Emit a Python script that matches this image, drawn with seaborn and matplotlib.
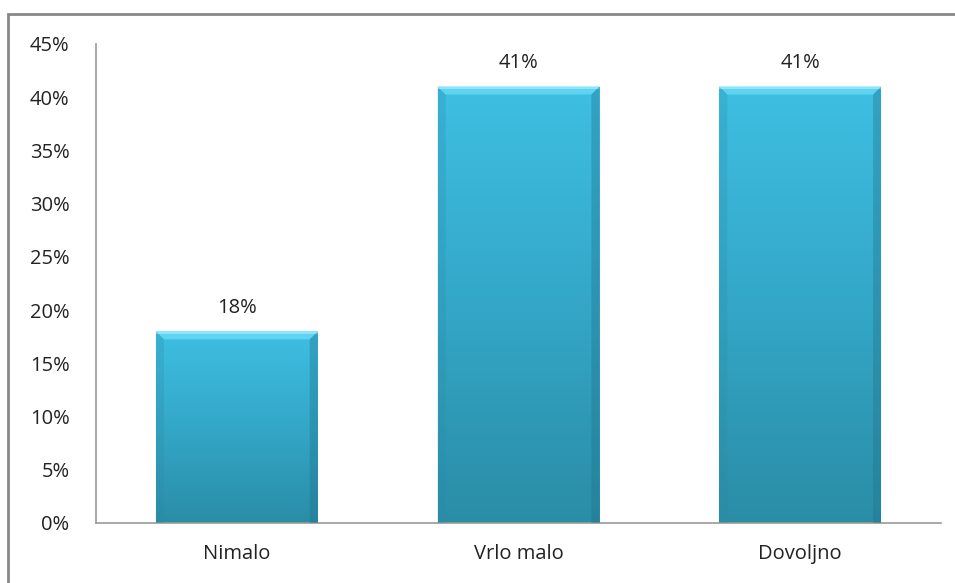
import numpy as np
import matplotlib
matplotlib.use("Agg")
import matplotlib.pyplot as plt
import seaborn as sns
from matplotlib.patches import Rectangle, Polygon
from matplotlib.colors import LinearSegmentedColormap

categories = ["Nimalo", "Vrlo malo", "Dovoljno"]
values = [18, 41, 41]
labels = ["18%", "41%", "41%"]
yticks = [0, 5, 10, 15, 20, 25, 30, 35, 40, 45]

sns.set_style("white")
plt.rcParams["font.family"] = ["Open Sans", "DejaVu Sans"]

fig = plt.figure(figsize=(9.55, 5.83), dpi=100)
ax = fig.add_axes([96/955, 1 - 523/583, (941-96)/955, (523-44)/583])

sns.barplot(x=categories, y=values, color="#3bb8da", width=0.575, ax=ax,
            edgecolor="none", saturation=1)

cmap = LinearSegmentedColormap.from_list("bar", ["#2a8da6", "#34a7c8", "#3ebfe2"])
grad = np.linspace(0, 1, 256).reshape(-1, 1)
bev = 0.75
for p in list(ax.patches):
    x0, w, h = p.get_x(), p.get_width(), p.get_height()
    im = ax.imshow(grad, extent=[x0, x0 + w, 0, h], origin="lower", aspect="auto",
                   cmap=cmap, zorder=2)
    im.set_clip_path(p)
    dx = w * 0.05
    # bevel highlight at top
    ax.add_patch(Polygon([(x0, h), (x0 + w, h), (x0 + w - dx, h - bev), (x0 + dx, h - bev)],
                         closed=True, color="#5fd3f2", zorder=3, lw=0))
    ax.add_patch(Rectangle((x0, h - 0.2), w, 0.2, color="#8fe4fa", zorder=3, lw=0))
    # side shading
    ax.add_patch(Polygon([(x0, 0), (x0, h), (x0 + dx, h - bev), (x0 + dx, 0)],
                         closed=True, color="#2a8aa4", alpha=0.25, zorder=3, lw=0))
    ax.add_patch(Polygon([(x0 + w, 0), (x0 + w, h), (x0 + w - dx, h - bev), (x0 + w - dx, 0)],
                         closed=True, color="#1f7088", alpha=0.35, zorder=3, lw=0))

for i, (v, t) in enumerate(zip(values, labels)):
    ax.text(i, v + 1.3, t, ha="center", va="bottom", fontsize=14.5, color="#222222")

ax.set_xlim(-0.5, 2.5)
ax.set_ylim(0, 45)
ax.set_yticks(yticks)
ax.set_yticklabels([f"{t}%" for t in yticks])
ax.tick_params(axis="both", length=0, labelsize=14.5, colors="#222222")
ax.tick_params(axis="y", pad=19)
ax.tick_params(axis="x", pad=15)
for s in ["top", "right"]:
    ax.spines[s].set_visible(False)
for s in ["left", "bottom"]:
    ax.spines[s].set_color("#999999")
    ax.spines[s].set_linewidth(1.2)

border = Rectangle((8/955, -0.1), 2, 1 - 14/583 + 0.1, transform=fig.transFigure,
                   fill=False, edgecolor="#888888", linewidth=2)
fig.patches.append(border)

fig.savefig("out.png", dpi=100)
